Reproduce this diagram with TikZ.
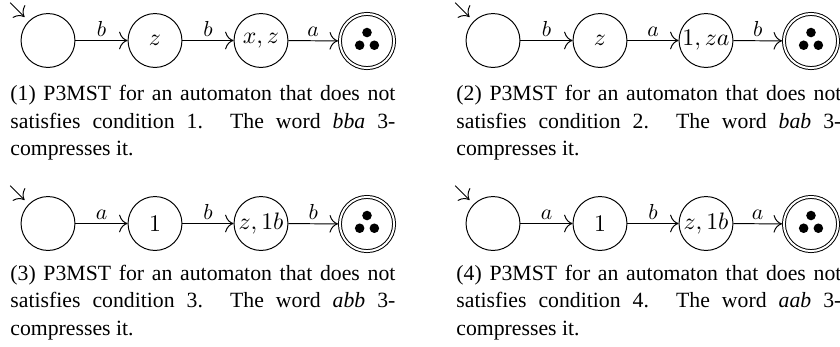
\documentclass[tikz,border=0pt]{standalone}
\usepackage{fontspec}
\setmainfont{Liberation Serif}
\usetikzlibrary{calc,arrows.meta}
\tikzset{
  st/.style={circle, draw, line width=0.45pt, minimum size=24.8pt, inner sep=0pt, font=\fontsize{10.5}{12}\selectfont},
  acc/.style={st, double, double distance=0.9pt, minimum size=24.9pt, outer sep=0.9pt},
  tr/.style={-{To[scale=1.5]}, line width=0.45pt},
  lab/.style={above, inner sep=1.6pt, font=\fontsize{10}{12}\selectfont},
  capt/.style={anchor=base west, inner sep=0pt, text width=177.1pt, align=justify, font=\fontsize{10}{12.6}\selectfont},
}
\newcommand\tridots[1]{%
  \fill ($(#1)+(90:3.9pt)$) circle (2.2pt);
  \fill ($(#1)+(210:3.9pt)$) circle (2.2pt);
  \fill ($(#1)+(330:3.9pt)$) circle (2.2pt);
}
\begin{document}
\begin{tikzpicture}[x=0.46pt, y=-0.46pt]
\useasboundingbox (0,0) rectangle (840,346);
% ---------- (1)
\node[st] (a1) at (48,40.5) {};
\node[st] (a2) at (155,40.5) {$z$};
\node[st] (a3) at (261,40.5) {$x,z$};
\node[acc] (a4) at (367,41) {};
\tridots{a4}
\coordinate (ai) at ($(a1)+(135:24.6pt)$);
\draw[tr, shorten >=2.6pt] (ai) -- (a1.135);
\draw[tr] (a1) -- node[lab] {$b$} (a2);
\draw[tr] (a2) -- node[lab] {$b$} (a3);
\draw[tr] (a3) -- node[lab] {$a$} (a4);
\node[capt] (ac) at (10,100.7) {(1) P3MST for an automaton that does not\linebreak satisfies condition 1. The word \textit{bba} 3-\linebreak compresses it.};
% ---------- (2)
\node[st] (b1) at (493,40.5) {};
\node[st] (b2) at (600,40.5) {$z$};
\node[st] (b3) at (706,40.5) {$1,za$};
\node[acc] (b4) at (811,41) {};
\tridots{b4}
\coordinate (bi) at ($(b1)+(135:24.6pt)$);
\draw[tr, shorten >=2.6pt] (bi) -- (b1.135);
\draw[tr] (b1) -- node[lab] {$b$} (b2);
\draw[tr] (b2) -- node[lab] {$a$} (b3);
\draw[tr] (b3) -- node[lab] {$b$} (b4);
\node[capt] (bc) at (456,100.7) {(2) P3MST for an automaton that does not\linebreak satisfies condition 2. The word \textit{bab} 3-\linebreak compresses it.};
% ---------- (3)
\node[st] (c1) at (48,223.5) {};
\node[st] (c2) at (155,223.5) {$1$};
\node[st] (c3) at (261,223.5) {$z,1b$};
\node[acc] (c4) at (367,224) {};
\tridots{c4}
\coordinate (ci) at ($(c1)+(135:24.6pt)$);
\draw[tr, shorten >=2.6pt] (ci) -- (c1.135);
\draw[tr] (c1) -- node[lab] {$a$} (c2);
\draw[tr] (c2) -- node[lab] {$b$} (c3);
\draw[tr] (c3) -- node[lab] {$b$} (c4);
\node[capt] (cc) at (10,280.5) {(3) P3MST for an automaton that does not\linebreak satisfies condition 3. The word \textit{abb} 3-\linebreak compresses it.};
% ---------- (4)
\node[st] (d1) at (493,223.5) {};
\node[st] (d2) at (600,223.5) {$1$};
\node[st] (d3) at (706,223.5) {$z,1b$};
\node[acc] (d4) at (811,224) {};
\tridots{d4}
\coordinate (di) at ($(d1)+(135:24.6pt)$);
\draw[tr, shorten >=2.6pt] (di) -- (d1.135);
\draw[tr] (d1) -- node[lab] {$a$} (d2);
\draw[tr] (d2) -- node[lab] {$b$} (d3);
\draw[tr] (d3) -- node[lab] {$a$} (d4);
\node[capt] (dc) at (456,280.5) {(4) P3MST for an automaton that does not\linebreak satisfies condition 4. The word \textit{aab} 3-\linebreak compresses it.};
\end{tikzpicture}
\end{document}
